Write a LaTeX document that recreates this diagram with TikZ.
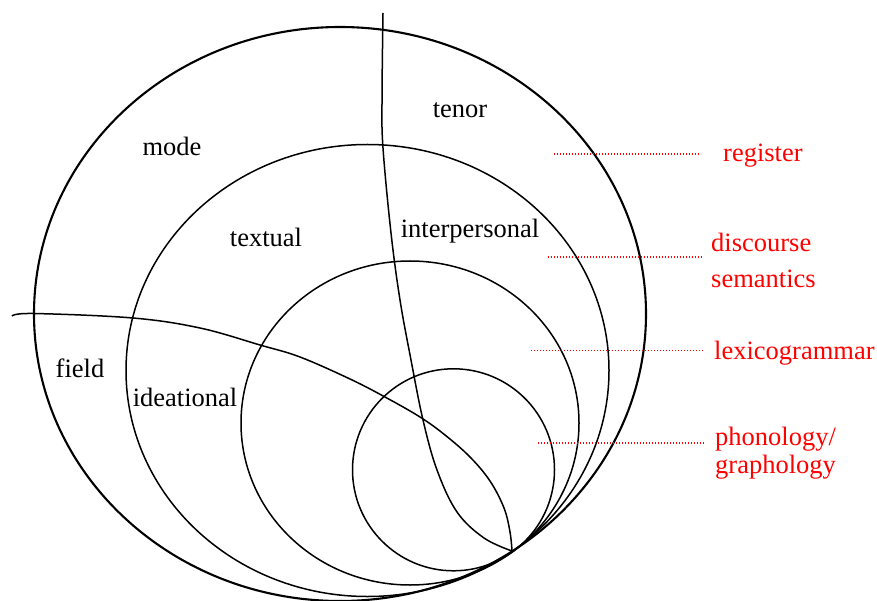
\documentclass[tikz,border=0pt]{standalone}
\usepackage{fontspec}
\setmainfont{Liberation Serif}
\tikzset{
  ring/.style={draw=black, line width=1.5pt},
  outerring/.style={draw=black, line width=2.1pt},
  divider/.style={draw=black, line width=1.5pt},
  lbl/.style={font=\fontsize{26.5}{30}\selectfont, text=black, inner sep=0pt, anchor=base},
  rlbl/.style={font=\fontsize{26.5}{30}\selectfont, text=red, inner sep=0pt, anchor=base west},
  leader/.style={draw=red, line width=1.3pt, dash pattern=on 1.3pt off 1.7pt},
}
\begin{document}
\begin{tikzpicture}[x=1pt,y=-1pt]
\useasboundingbox (0,0) rectangle (877,601);
% nested strata
\draw[outerring] (340,314) ellipse [x radius=306pt, y radius=287pt];
\draw[ring] (367.5,370.5) ellipse [x radius=241.5pt, y radius=226pt];
\draw[ring] (410,423) ellipse [x radius=169pt, y radius=162pt];
\draw[ring] (453.5,469.8) circle [radius=101pt];
% dividing curves
\coordinate (vtop) at (383,13);
\coordinate (hleft) at (12,316);
\coordinate (meet) at (512,551);
\draw[divider] plot[smooth, tension=0.6] coordinates {(383,13) (382,100) (383,148) (391,233) (400,300) (411,360) (423,420) (437,470) (457,512) (484,538) (512,551)};
\draw[divider] plot[smooth, tension=0.6] coordinates {(12,316) (33,313.5) (133,318) (200,328) (260,345) (300,357) (350,379) (385,397) (420,417) (445,435) (470,457) (490,481) (504,508) (510,532) (512,551)};
% black labels
\node[lbl] (tenor) at (460,118) {tenor};
\node[lbl] (mode) at (172,156) {mode};
\node[lbl] (textual) at (266,247) {textual};
\node[lbl] (interp) at (470,238) {interpersonal};
\node[lbl] (field) at (80,377) {field};
\node[lbl] (ideat) at (185,406) {ideational};
% red labels
\node[rlbl] (register) at (723,162) {register};
\node[rlbl] (disc) at (711,252) {discourse};
\node[rlbl] (sem) at (711,287.5) {semantics};
\node[rlbl] (lexgr) at (714,359) {lexicogrammar};
\node[rlbl] (phon) at (715,445) {phonology/};
\node[rlbl] (graph) at (715,473) {graphology};
% leaders
\coordinate (l1a) at (554,154); \coordinate (l1b) at (701,154);
\coordinate (l2a) at (548,257); \coordinate (l2b) at (703,257);
\coordinate (l3a) at (531,350.5); \coordinate (l3b) at (703,350.5);
\coordinate (l4a) at (538,443); \coordinate (l4b) at (705,443);
\draw[leader] (l1a) -- (l1b);
\draw[leader] (l2a) -- (l2b);
\draw[leader] (l3a) -- (l3b);
\draw[leader] (l4a) -- (l4b);
\end{tikzpicture}
\end{document}
